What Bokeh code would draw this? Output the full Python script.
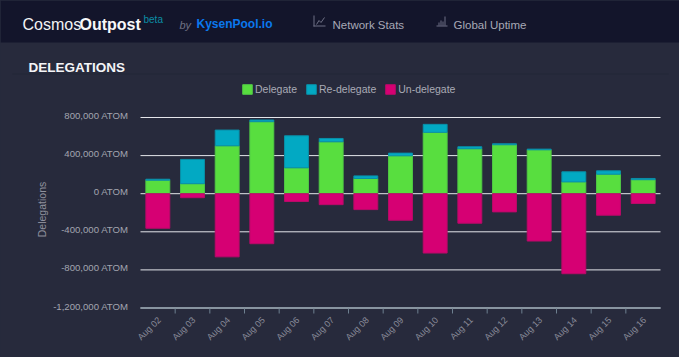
from bokeh.plotting import figure
from bokeh.embed import file_html
from bokeh.resources import INLINE
from bokeh.core.properties import value
from bokeh.models import Range1d, Legend, LegendItem, ColumnDataSource
import math

dates = ["Aug 02","Aug 03","Aug 04","Aug 05","Aug 06","Aug 07","Aug 08","Aug 09","Aug 10","Aug 11","Aug 12","Aug 13","Aug 14","Aug 15","Aug 16"]
delegate = [142000,105000,503000,756000,272000,545000,160000,398000,644000,472000,514000,461000,124000,205000,147000]
redelegate = [10000,255000,165000,18000,336000,35000,27000,28000,84000,21000,10000,7000,106000,35000,13000]
undelegate = [363000,42000,663000,525000,82000,115000,167000,279000,623000,310000,191000,497000,840000,226000,103000]
y_ticks = [800000,400000,0,-400000,-800000,-1200000]
y_labels = ["800,000 ATOM","400,000 ATOM","0 ATOM","-400,000 ATOM","-800,000 ATOM","-1,200,000 ATOM"]

W, H = 679, 357
BG = "#272a3c"
HEAD = "#13152b"
FONT = "Liberation Sans"
GREEN, TEAL, PINK = "#58de3f", "#02a9c3", "#d60073"

n = len(dates)
band = 520 / n
unit = 400000 / 38.1
PX = dict(x_range_name="px", y_range_name="px")

p = figure(width=W, height=H, output_backend="svg", toolbar_location=None,
           x_range=Range1d(-140 / band, (W - 140) / band),
           y_range=Range1d(800000 - (H - 117) * unit, 800000 + 117 * unit),
           x_axis_location=None, y_axis_location=None, min_border=0,
           background_fill_color=BG, border_fill_color=BG, outline_line_color=None)
p.grid.visible = False
p.extra_x_ranges["px"] = Range1d(0, W)
p.extra_y_ranges["px"] = Range1d(H, 0)


def text(s, x0, base, size, color, style="normal"):
    p.text(x=[x0], y=[base], text=[s], text_font=value(FONT), text_font_size=f"{size}px", text_color=color,
           text_font_style=style, text_baseline="alphabetic", **PX)


def rect(l, r, t_, b, color):
    p.quad(left=[l], right=[r], top=[t_], bottom=[b], fill_color=color, line_color=None, **PX)


rect(0, W, 0, 42, HEAD)
rect(12, 668, 73, 74, "#232636")
text("Cosmos", 22, 23.5, 16, "#f2f3f6")
text("Outpost", 79, 23.5, 16, "#f7f8fa", "bold")
text("beta", 143, 18.5, 10, "#0b8ea6")
text("by", 179, 24, 11, "#6f7183", "italic")
text("KysenPool.io", 196, 23.7, 12, "#0a78ee", "bold")
text("Network Stats", 332, 24.5, 11.5, "#a7a9b6")
text("Global Uptime", 453, 24.5, 11.5, "#a7a9b6")
text("DELEGATIONS", 28, 66.5, 13.5, "#f4f5f8", "bold")

ICON = "#6f7186"
rect(313, 314, 15, 26, ICON)
rect(313, 325, 25, 26, ICON)
p.line(x=[316, 318.5, 320.5, 324], y=[24, 20, 22, 17], line_color=ICON, line_width=1, **PX)
rect(436, 447, 25, 26, ICON)
rect(438, 439, 22, 25, ICON)
rect(440, 441, 20, 25, ICON)
rect(442, 443, 21, 25, ICON)
rect(444, 445, 16, 25, ICON)

x = [i + 0.5 for i in range(n)]
top_stack = [d + r for d, r in zip(delegate, redelegate)]
src = ColumnDataSource(dict(x=x, delegate=delegate, top=top_stack, zero=[0] * n,
                            under=[-u for u in undelegate]))

# grid lines
p.segment(x0=[0] * 6, x1=[n] * 6, y0=y_ticks, y1=y_ticks, line_color="#e4e5ea", line_width=1)

# x axis line and tick marks between the days
p.segment(x0=[0], x1=[n], y0=[y_ticks[-1]], y1=[y_ticks[-1]], line_color="#8a98a4", line_width=1.5)
bounds = list(range(1, n))
p.segment(x0=bounds, x1=bounds, y0=[308] * len(bounds), y1=[313] * len(bounds), line_color="#6d7f8f", line_width=1,
          y_range_name="px")

bw = 0.69
g = p.vbar(x="x", bottom="zero", top="delegate", width=bw, source=src, fill_color=GREEN, line_color="#50c845", line_width=1)
t = p.vbar(x="x", bottom="delegate", top="top", width=bw, source=src, fill_color=TEAL, line_color="#0a8fa8", line_width=1)
u = p.vbar(x="x", bottom="zero", top="under", width=bw, source=src, fill_color=PINK, line_color="#b80a68", line_width=1)

# axis labels
p.text(x=x, y=[318] * n, text=dates, text_font=value(FONT), text_font_size="9px", text_color="#8a8c9a",
       text_align="right", text_baseline="middle", angle=math.pi / 4, x_offset=1.5, y_range_name="px")
p.text(x=[128] * 6, y=y_ticks, text=y_labels, text_font=value(FONT), text_font_size="9.6px", text_color="#a3a5b0",
       text_align="right", text_baseline="middle", y_offset=-2, x_range_name="px")
p.text(x=[41], y=[209], text=["Delegations"], text_font=value(FONT), text_font_size="10.5px", text_color="#8f919d",
       text_align="center", text_baseline="middle", angle=math.pi / 2, **PX)

legend = Legend(items=[LegendItem(label="Delegate", renderers=[g]),
                       LegendItem(label="Re-delegate", renderers=[t]),
                       LegendItem(label="Un-delegate", renderers=[u])],
                orientation="horizontal", location=(241, 262), padding=0, margin=0, spacing=8,
                glyph_width=12, glyph_height=12, label_standoff=2, background_fill_alpha=0,
                border_line_color=None, label_text_font=FONT, label_text_font_size="10.5px",
                label_text_color="#a9abb6", label_height=12)
p.add_layout(legend, "center")

html = file_html(p, INLINE)
html = html.replace("</head>", f"<style>html,body{{margin:0;padding:0;background:{BG};overflow:hidden}}</style></head>", 1)
open("out.html", "w").write(html)
